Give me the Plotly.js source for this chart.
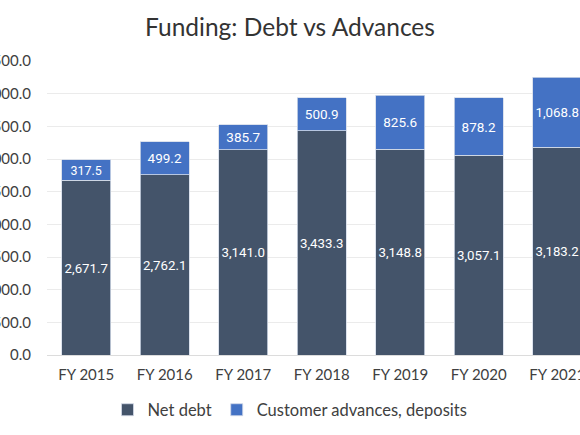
<!DOCTYPE html>
<html>
<head>
<meta charset="utf-8">
<script src="https://cdn.plot.ly/plotly-3.0.1.min.js"></script>
<style>
html,body{margin:0;padding:0;background:#fff;overflow:hidden;}
#chart{width:580px;height:435px;}
</style>
</head>
<body>
<div id="chart"></div>
<script>
const categories = ["FY 2015","FY 2016","FY 2017","FY 2018","FY 2019","FY 2020","FY 2021"];
const netDebt = [2671.7, 2762.1, 3141.0, 3433.3, 3148.8, 3057.1, 3183.2];
const customerAdvances = [317.5, 499.2, 385.7, 500.9, 825.6, 878.2, 1068.8];
const yTickVals = [0,500,1000,1500,2000,2500,3000,3500,4000,4500];

const common = {
  type: 'bar',
  x: categories,
  textposition: 'inside',
  insidetextanchor: 'middle',
  textangle: 0,
  texttemplate: '%{y:,.1f}',
  textfont: {family: 'Roboto, "Liberation Sans", sans-serif', size: 13.5, color: '#ffffff'},
  hoverinfo: 'skip'
};

const traces = [
  Object.assign({}, common, {
    name: 'Net debt',
    y: netDebt,
    marker: {color: '#44546A', line: {color: '#d3dbe9', width: 0.8}}
  }),
  Object.assign({}, common, {
    name: 'Customer advances, deposits',
    y: customerAdvances,
    marker: {color: '#4472C4', line: {color: '#d3dbe9', width: 0.8}}
  })
];

const layout = {
  width: 580,
  height: 435,
  barmode: 'stack',
  bargap: 0.37,
  paper_bgcolor: '#ffffff',
  plot_bgcolor: '#ffffff',
  margin: {l: 47, r: 0, t: 61, b: 80, pad: 0},
  font: {family: 'Lato, "Open Sans", sans-serif', color: '#404040', size: 15},
  title: {
    text: 'Funding: Debt vs Advances',
    font: {family: 'Lato, sans-serif', size: 24.5, color: '#333333'},
    x: 0.5, xref: 'container', xanchor: 'center',
    y: 1 - 27/435, yref: 'container', yanchor: 'middle'
  },
  xaxis: {
    range: [-0.5, 6.29],
    showgrid: false,
    zeroline: false,
    showline: false,
    ticks: '',
    ticklabelstandoff: 9,
    tickfont: {family: 'Lato, sans-serif', size: 15, color: '#404040'},
    automargin: false,
    fixedrange: true
  },
  yaxis: {
    range: [0, 4500],
    tickvals: yTickVals,
    tickformat: ',.1f',
    showgrid: true,
    gridcolor: '#ebebeb',
    gridwidth: 1,
    zeroline: true,
    zerolinecolor: '#dcdcdc',
    zerolinewidth: 1,
    showline: false,
    ticks: '',
    ticklabelstandoff: 15,
    tickfont: {family: 'Lato, sans-serif', size: 15, color: '#404040'},
    automargin: false,
    fixedrange: true
  },
  legend: {
    orientation: 'h',
    x: 0.5, xref: 'container', xanchor: 'center',
    y: 1 - 410/435, yref: 'container', yanchor: 'middle',
    font: {family: 'Lato, sans-serif', size: 16.5, color: '#404040'},
    itemclick: false, itemdoubleclick: false,
    itemwidth: 30,
    traceorder: 'normal'
  },
  showlegend: true
};

Plotly.newPlot('chart', traces, layout, {displayModeBar: false, staticPlot: true});
</script>
</body>
</html>
